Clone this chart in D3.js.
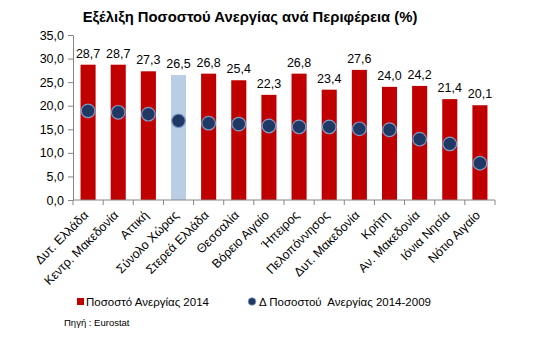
<!DOCTYPE html>
<html><head><meta charset="utf-8">
<script src="https://cdn.jsdelivr.net/npm/d3@7"></script>
<style>body{margin:0;background:#fff}svg{display:block}text{font-family:"Liberation Sans",Arial,sans-serif;fill:#000}</style>
</head><body><svg id="c" width="533" height="339"></svg>
<script>
const categories = ["Δυτ. Ελλάδα","Κεντρ. Μακεδονία","Αττική","Σύνολο Χώρας","Στερεά Ελλάδα","Θεσσαλία","Βόρειο Αιγαίο","Ήπειρος","Πελοπόννησος","Δυτ. Μακεδονία","Κρήτη","Αν. Μακεδονία","Ιόνια Νησία","Νότιο Αιγαίο"];
const rate2014 = [28.7,28.7,27.3,26.5,26.8,25.4,22.3,26.8,23.4,27.6,24.0,24.2,21.4,20.1];
const delta = [18.9,18.6,18.2,16.8,16.3,16.1,15.7,15.5,15.5,15.1,14.9,12.9,11.9,7.8];
const yTicks = [0,5,10,15,20,25,30,35];
const totalLabel = "Σύνολο Χώρας";

const svg = d3.select("#c");
const fmt = v => v.toFixed(1).replace(".", ",");
const x = d3.scaleBand().domain(categories).range([73, 495]).paddingInner(0.5).paddingOuter(0.25);
const y = d3.scaleLinear().domain([0,35]).range([200,35]);

svg.append("text").attr("x",250).attr("y",22).attr("text-anchor","middle")
  .style("font-weight","bold").style("font-size","14.8px").text("Εξέλιξη Ποσοστού Ανεργίας ανά Περιφέρεια (%)");

// bars
svg.selectAll("rect.bar").data(categories).join("rect")
  .attr("x", d=>x(d)).attr("width", x.bandwidth())
  .attr("y", (d,i)=>y(rate2014[i])).attr("height",(d,i)=>y(0)-y(rate2014[i]))
  .attr("fill", d=> d===totalLabel ? "#B9CDE5" : "#C00000");

// value labels
svg.selectAll("text.val").data(categories).join("text")
  .attr("x", d=>x(d)+x.bandwidth()/2).attr("y",(d,i)=>y(rate2014[i])-7)
  .attr("text-anchor","middle").style("font-size","12.5px").text((d,i)=>fmt(rate2014[i]));

// y axis
const yAxis = svg.append("g").attr("transform","translate(73,0)")
  .call(d3.axisLeft(y).tickValues(yTicks).tickFormat(fmt).tickSize(5).tickSizeOuter(0));
yAxis.select(".domain").attr("stroke","#868686");
yAxis.selectAll(".tick line").attr("stroke","#868686");
yAxis.selectAll(".tick text").style("font-size","12.5px").attr("x",-9).attr("fill","#000");

// x axis
const xg = svg.append("g").attr("transform","translate(0,200)");
xg.append("line").attr("x1",73).attr("x2",495).attr("stroke","#868686");
const step = x.step();
const edges = d3.range(categories.length+1).map(i=>73+i*step);
xg.selectAll("line.t").data(edges).join("line").attr("class","t")
  .attr("x1",d=>d).attr("x2",d=>d).attr("y1",0).attr("y2",5).attr("stroke","#868686");

// x labels
svg.selectAll("text.cat").data(categories).join("text")
  .attr("text-anchor","end").style("font-size","12.5px")
  .attr("transform", d=>`translate(${x(d)+x.bandwidth()/2+1},${216}) rotate(-45)`)
  .text(d=>d);

// dots
svg.selectAll("circle.dot").data(categories).join("circle")
  .attr("cx", d=>x(d)+x.bandwidth()/2).attr("cy",(d,i)=>y(delta[i])).attr("r",6.8)
  .attr("fill","#1F3864").attr("stroke","#7E9BC8").attr("stroke-width",1.2);

// legend
svg.append("rect").attr("x",77).attr("y",298).attr("width",7).attr("height",7).attr("fill","#C00000");
svg.append("text").attr("x",86).attr("y",306).style("font-size","11.5px").text("Ποσοστό Ανεργίας 2014");
svg.append("circle").attr("cx",252).attr("cy",301.5).attr("r",3.8).attr("fill","#1F3864").attr("stroke","#7E9BC8").attr("stroke-width",0.8);
svg.append("text").attr("x",259).attr("y",306).style("font-size","11.5px").text("Δ Ποσοστού  Ανεργίας 2014-2009").attr("xml:space","preserve").style("white-space","pre");
svg.append("text").attr("x",64).attr("y",326).style("font-size","9.5px").text("Πηγή : Eurostat");
</script></body></html>
